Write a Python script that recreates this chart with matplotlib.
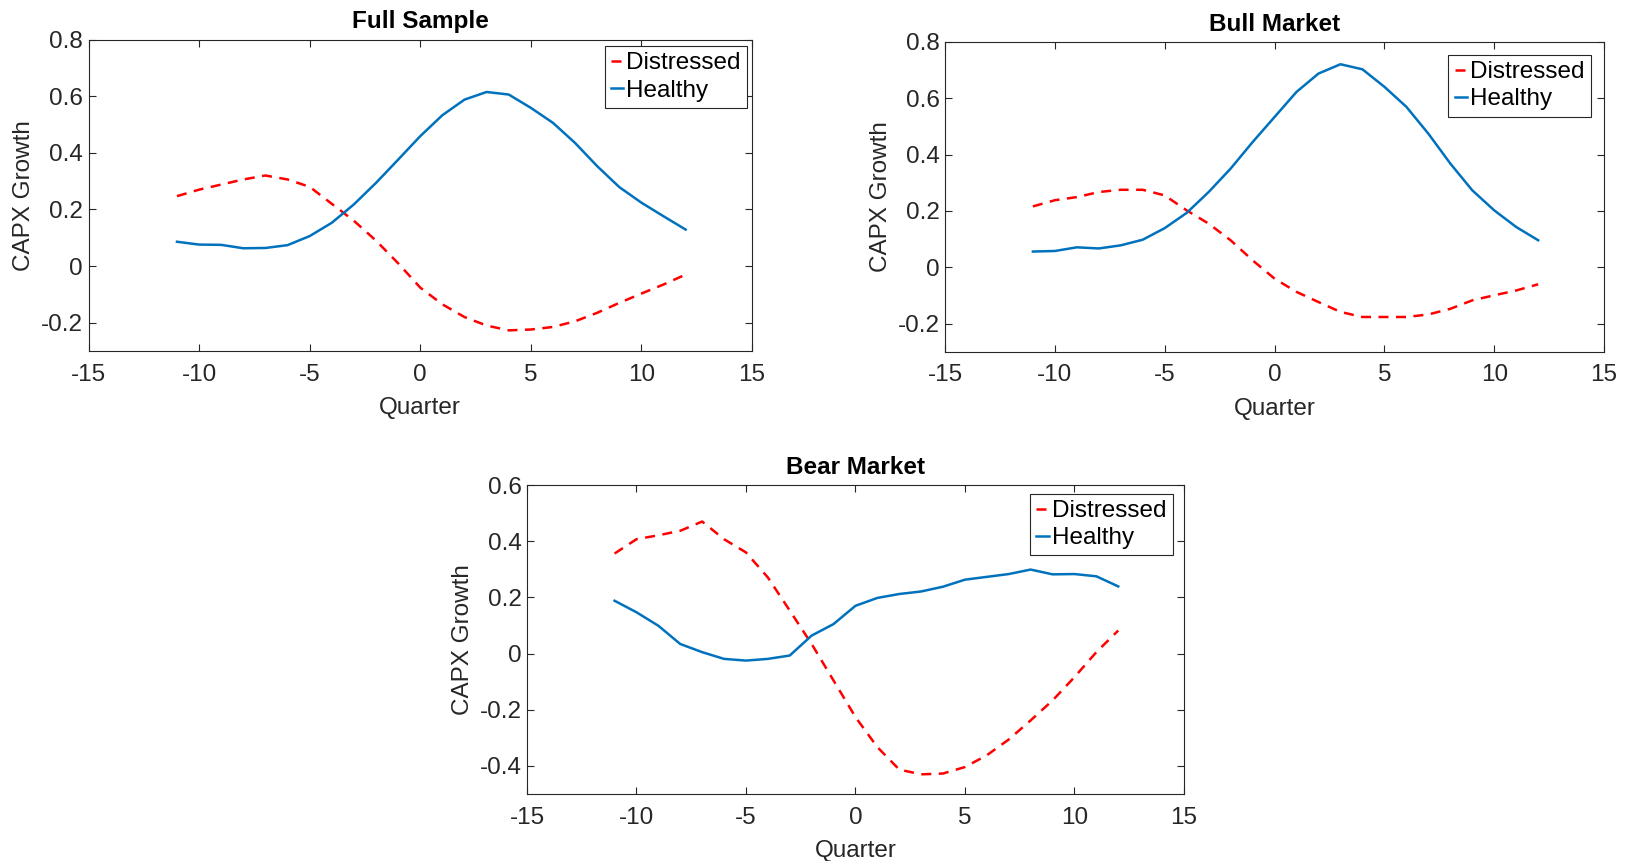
import numpy as np
import matplotlib
matplotlib.use("Agg")
import matplotlib.pyplot as plt

plt.rcParams['font.family'] = ['Liberation Sans', 'DejaVu Sans']
plt.rcParams['axes.unicode_minus'] = False

quarters = np.arange(-11, 13)

full_distressed = [0.247, 0.27, 0.288, 0.306, 0.32, 0.306, 0.28, 0.22, 0.16, 0.09, 0.01, -0.076,
                   -0.135, -0.18, -0.21, -0.227, -0.224, -0.215, -0.195, -0.165, -0.13, -0.097, -0.065, -0.03]
full_healthy = [0.086, 0.076, 0.075, 0.063, 0.064, 0.074, 0.106, 0.153, 0.218, 0.294, 0.376, 0.459,
                0.533, 0.588, 0.615, 0.606, 0.559, 0.506, 0.435, 0.353, 0.279, 0.224, 0.176, 0.129]

bull_distressed = [0.216, 0.238, 0.249, 0.267, 0.275, 0.275, 0.255, 0.202, 0.155, 0.096, 0.025, -0.04,
                   -0.087, -0.123, -0.158, -0.176, -0.176, -0.176, -0.167, -0.147, -0.117, -0.099, -0.082, -0.06]
bull_healthy = [0.056, 0.058, 0.071, 0.067, 0.078, 0.098, 0.139, 0.193, 0.267, 0.35, 0.444, 0.533,
                0.622, 0.687, 0.72, 0.702, 0.64, 0.569, 0.474, 0.368, 0.273, 0.202, 0.143, 0.096]

bear_distressed = [0.356, 0.407, 0.421, 0.437, 0.47, 0.407, 0.36, 0.271, 0.153, 0.034, -0.096, -0.226,
                   -0.333, -0.413, -0.43, -0.427, -0.404, -0.362, -0.306, -0.238, -0.167, -0.084, 0.005, 0.082]
bear_healthy = [0.188, 0.147, 0.099, 0.034, 0.005, -0.019, -0.025, -0.019, -0.007, 0.064, 0.105, 0.17,
                0.198, 0.212, 0.221, 0.238, 0.263, 0.273, 0.283, 0.299, 0.282, 0.283, 0.275, 0.239]

fig = plt.figure(figsize=(16.33, 8.61), dpi=100)

# [left, bottom, width, height], title, data, ylim, yticks, legend anchor
panels = [
    ([0.0542, 0.5923, 0.4063, 0.3617], "Full Sample", full_distressed, full_healthy,
     (-0.3, 0.8), np.arange(-0.2, 0.81, 0.2), (0.9925, 0.979)),
    ([0.5787, 0.5912, 0.4036, 0.3604], "Bull Market", bull_distressed, bull_healthy,
     (-0.3, 0.8), np.arange(-0.2, 0.81, 0.2), (0.980, 0.957)),
    ([0.3227, 0.0778, 0.4023, 0.3589], "Bear Market", bear_distressed, bear_healthy,
     (-0.5, 0.6), np.arange(-0.4, 0.61, 0.2), (0.983, 0.971)),
]

for rect, title, dis, hea, ylim, yt, anchor in panels:
    ax = fig.add_axes(rect)
    ax.plot(quarters, dis, color="#ff0000", linestyle="--", linewidth=1.8, dashes=(4, 3), label="Distressed")
    ax.plot(quarters, hea, color="#0072BD", linewidth=1.8, label="Healthy")
    ax.set_xlim(-15, 15)
    ax.set_ylim(*ylim)
    ax.set_xticks(np.arange(-15, 16, 5))
    ax.set_yticks(yt)
    ax.set_yticklabels([("%g" % round(v, 1)) for v in yt])
    ax.tick_params(direction="in", top=True, right=True, labelsize=17.5, length=5, width=0.8,
                   colors="#262626", labelcolor="#262626")
    ax.tick_params(axis="x", pad=9)
    ax.tick_params(axis="y", pad=4)
    for s in ax.spines.values():
        s.set_color("#262626")
        s.set_linewidth(0.8)
    ax.set_title(title, fontsize=17.5, fontweight="bold", pad=8)
    ax.set_xlabel("Quarter", fontsize=17.5, color="#262626", labelpad=8)
    ax.set_ylabel("CAPX Growth", fontsize=17.5, color="#262626", labelpad=4)
    leg = ax.legend(loc="upper right", bbox_to_anchor=anchor, borderaxespad=0, fontsize=17.5,
                    handlelength=0.5, handletextpad=0.15, borderpad=0.25, labelspacing=0.22,
                    fancybox=False, framealpha=1, edgecolor="#262626")
    leg.get_frame().set_linewidth(0.8)

fig.savefig("out.png", dpi=100)
